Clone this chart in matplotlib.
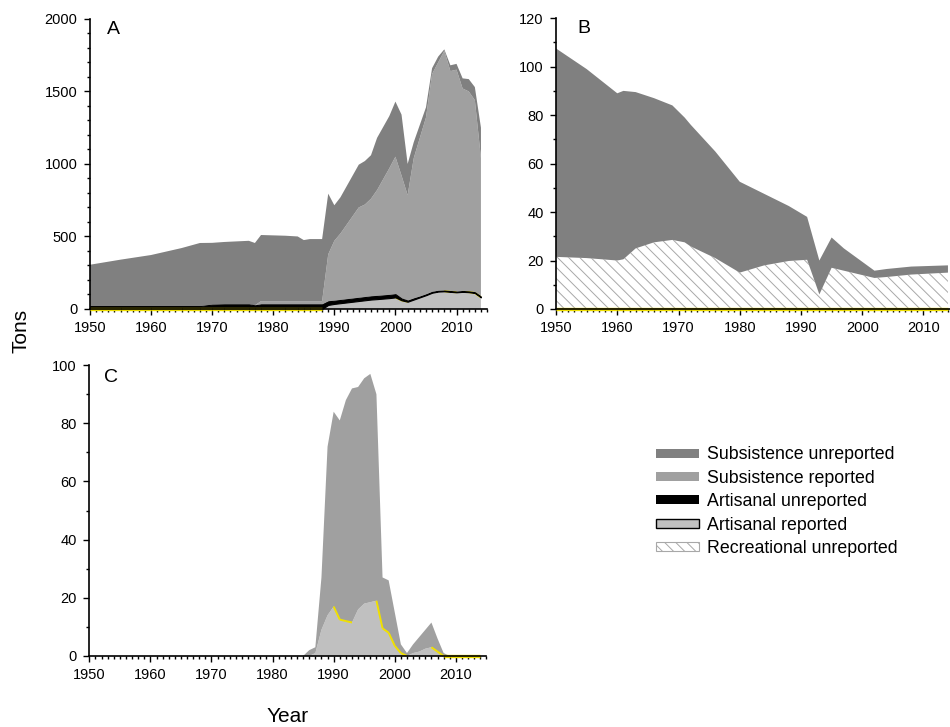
import numpy as np
import matplotlib.pyplot as plt
from matplotlib.patches import Patch
from matplotlib.ticker import MultipleLocator

plt.rcParams['font.family'] = ['Liberation Sans', 'DejaVu Sans']
plt.rcParams['hatch.linewidth'] = 0.7

# Colores de cada sector
c_sub_unrep = '#808080'
c_sub_rep = '#a0a0a0'
c_art_unrep = '#000000'
c_art_rep = '#c0c0c0'
c_rec = '#a8a8a8'
amarillo = '#f0e000'

# Panel A
anios_a = [1950, 1955, 1960, 1965, 1968, 1970, 1972, 1976, 1977, 1978, 1982, 1984, 1985,
           1986, 1988, 1989, 1990, 1991, 1994, 1995, 1996, 1997, 1999, 2000, 2001, 2002,
           2003, 2004, 2005, 2006, 2007, 2008, 2009, 2010, 2011, 2012, 2013, 2014]
art_rep_a = [0, 0, 0, 0, 0, 0, 0, 0, 0, 0, 0, 0, 0, 0, 0,
             28, 35, 40, 55, 60, 65, 68, 75, 80, 60, 50, 65, 80, 95, 112, 120, 122,
             118, 115, 118, 116, 110, 80]
art_unrep_a = [20, 20, 20, 20, 20, 30, 32, 32, 25, 32, 32, 32, 32, 32, 32,
               25, 22, 22, 22, 22, 22, 22, 22, 22, 12, 8, 8, 6, 6, 6, 5, 5,
               5, 5, 5, 5, 5, 5]
rec_a = [0] * 38
sub_rep_a = [0, 0, 0, 0, 0, 0, 0, 0, 0, 22, 22, 22, 22, 22, 22,
             324, 413, 458, 623, 638, 673, 730, 873, 948, 848, 727, 967, 1094, 1219,
             1502, 1575, 1653, 1517, 1530, 1397, 1379, 1325, 955]
sub_unrep_a = [285, 320, 352, 400, 435, 426, 430, 438, 430, 456, 451, 446, 421, 428, 428,
               418, 245, 250, 295, 300, 300, 360, 360, 380, 420, 215, 110, 90, 70,
               40, 40, 10, 40, 40, 70, 85, 90, 210]

# Panel B
anios_b = [1950, 1955, 1960, 1961, 1963, 1966, 1969, 1971, 1972, 1976, 1980, 1984, 1988,
           1991, 1993, 1995, 1997, 2002, 2004, 2008, 2014]
art_rep_b = [0] * 21
art_unrep_b = [0] * 21
rec_b = [21.5, 21, 20, 20.5, 25, 27.5, 28.5, 27.5, 25.8, 21, 15, 18, 19.8,
         20.3, 6, 17, 15.8, 12.8, 13.2, 14.2, 15]
sub_rep_b = [0] * 21
sub_unrep_b = [86, 78, 69, 69.5, 64.5, 59.5, 55.5, 51.5, 50.2, 44, 37.5, 29.5, 22.7,
               17.7, 14, 12.5, 9.2, 3, 3.3, 3.3, 3]

# Panel C
anios_c = [1950, 1985, 1986, 1987, 1988, 1989, 1990, 1991, 1992, 1993, 1994, 1995, 1996,
           1997, 1998, 1999, 2000, 2001, 2002, 2003, 2004, 2005, 2006, 2007, 2008, 2009, 2014]
art_rep_c = [0, 0, 0, 1, 9, 14, 17, 12.5, 12, 11.5, 16, 18, 18.5,
             19, 9.5, 8, 3.5, 1, 0, 1, 1.5, 2.5, 3, 1.5, 0, 0, 0]
art_unrep_c = [0] * 27
rec_c = [0] * 27
sub_rep_c = [0, 0, 2, 2, 18, 58, 67, 68.5, 76, 80.5, 76.5, 77.5, 78.5,
             71, 17.5, 18, 11.5, 3, 1, 3, 5, 6.5, 8.5, 4.5, 1, 0, 0]
sub_unrep_c = [0] * 27

etiquetas = ['Subsistence unreported', 'Subsistence reported', 'Artisanal unreported',
             'Artisanal reported', 'Recreational unreported']

fig = plt.figure(figsize=(9.5, 7.27), dpi=100)
ax_a = fig.add_axes([0.0947, 0.575, 0.418, 0.399])
ax_b = fig.add_axes([0.5853, 0.575, 0.419, 0.400])
ax_c = fig.add_axes([0.094, 0.0977, 0.418, 0.400])


def panel(ax, anios, art_rep, art_unrep, rec, sub_rep, sub_unrep, inicio_amarillo):
    x = np.array(anios, dtype=float)
    base = np.zeros(len(x))
    capas = [(art_rep, c_art_rep, None), (art_unrep, c_art_unrep, None),
             (rec, 'white', '\\\\\\'), (sub_rep, c_sub_rep, None), (sub_unrep, c_sub_unrep, None)]
    for valores, color, hatch in capas:
        v = np.array(valores, dtype=float)
        tope = base + v
        if v.max() > 0:
            if hatch:
                ax.fill_between(x, base, tope, facecolor='white', edgecolor=c_rec,
                                hatch=hatch, linewidth=0, zorder=1)
            elif color == c_art_unrep:
                ax.fill_between(x, base, tope, facecolor=color, edgecolor=color,
                                linewidth=0.8, zorder=1.2)
            else:
                ax.fill_between(x, base, tope, facecolor=color, linewidth=0, zorder=1)
        base = tope
    # linea amarilla en el borde del artisanal reportado (tramos que bajan)
    ar = np.array(art_rep, dtype=float)
    for i in range(len(x) - 1):
        if x[i] >= inicio_amarillo and ar[i + 1] <= ar[i]:
            en_cero = ar[i] == 0 and ar[i + 1] == 0
            ax.plot(x[i:i + 2], ar[i:i + 2], color=amarillo, lw=2.4 if en_cero else 1.4,
                    zorder=2.45 if en_cero else 1.1, clip_on=False, solid_capstyle='butt')
    ax.set_xlim(1950, 2015)
    ax.xaxis.set_major_locator(MultipleLocator(10))
    ax.xaxis.set_minor_locator(MultipleLocator(1))
    for s in ['top', 'right']:
        ax.spines[s].set_visible(False)
    ax.spines['left'].set_linewidth(1.2)
    ax.spines['bottom'].set_linewidth(1.2)
    ax.tick_params(which='major', direction='out', length=4, width=1, labelsize=10.5, pad=5)
    ax.tick_params(which='minor', direction='out', length=2.5, width=1)


panel(ax_a, anios_a, art_rep_a, art_unrep_a, rec_a, sub_rep_a, sub_unrep_a, 1950)
ax_a.set_ylim(0, 2000)
ax_a.yaxis.set_major_locator(MultipleLocator(500))
ax_a.yaxis.set_minor_locator(MultipleLocator(100))

panel(ax_b, anios_b, art_rep_b, art_unrep_b, rec_b, sub_rep_b, sub_unrep_b, 1950)
ax_b.set_ylim(0, 120)
ax_b.yaxis.set_major_locator(MultipleLocator(20))
ax_b.yaxis.set_minor_locator(MultipleLocator(10))

panel(ax_c, anios_c, art_rep_c, art_unrep_c, rec_c, sub_rep_c, sub_unrep_c, 1986)
ax_c.set_ylim(0, 100)
ax_c.yaxis.set_major_locator(MultipleLocator(20))
ax_c.yaxis.set_minor_locator(MultipleLocator(10))

ax_a.text(0.043, 0.993, 'A', transform=ax_a.transAxes, va='top', fontsize=14)
ax_b.text(0.053, 0.993, 'B', transform=ax_b.transAxes, va='top', fontsize=14)
ax_c.text(0.038, 0.986, 'C', transform=ax_c.transAxes, va='top', fontsize=14)

fig.text(0.022, 0.545, 'Tons', rotation=90, ha='center', va='center', fontsize=15)
fig.text(0.303, 0.014, 'Year', ha='center', va='center', fontsize=15)

manijas = [Patch(facecolor=c_sub_unrep, edgecolor='none'),
           Patch(facecolor=c_sub_rep, edgecolor='none'),
           Patch(facecolor=c_art_unrep, edgecolor='none'),
           Patch(facecolor=c_art_rep, edgecolor='black', linewidth=1),
           Patch(facecolor='white', edgecolor=c_rec, hatch='\\\\\\', linewidth=0.8)]
fig.legend(manijas, etiquetas, loc='upper left', bbox_to_anchor=(0.690, 0.386),
           frameon=False, fontsize=12.8, handlelength=2.42, handleheight=0.4,
           handletextpad=0.45, labelspacing=0.36, borderpad=0, borderaxespad=0)

plt.savefig('out.png', dpi=100)
